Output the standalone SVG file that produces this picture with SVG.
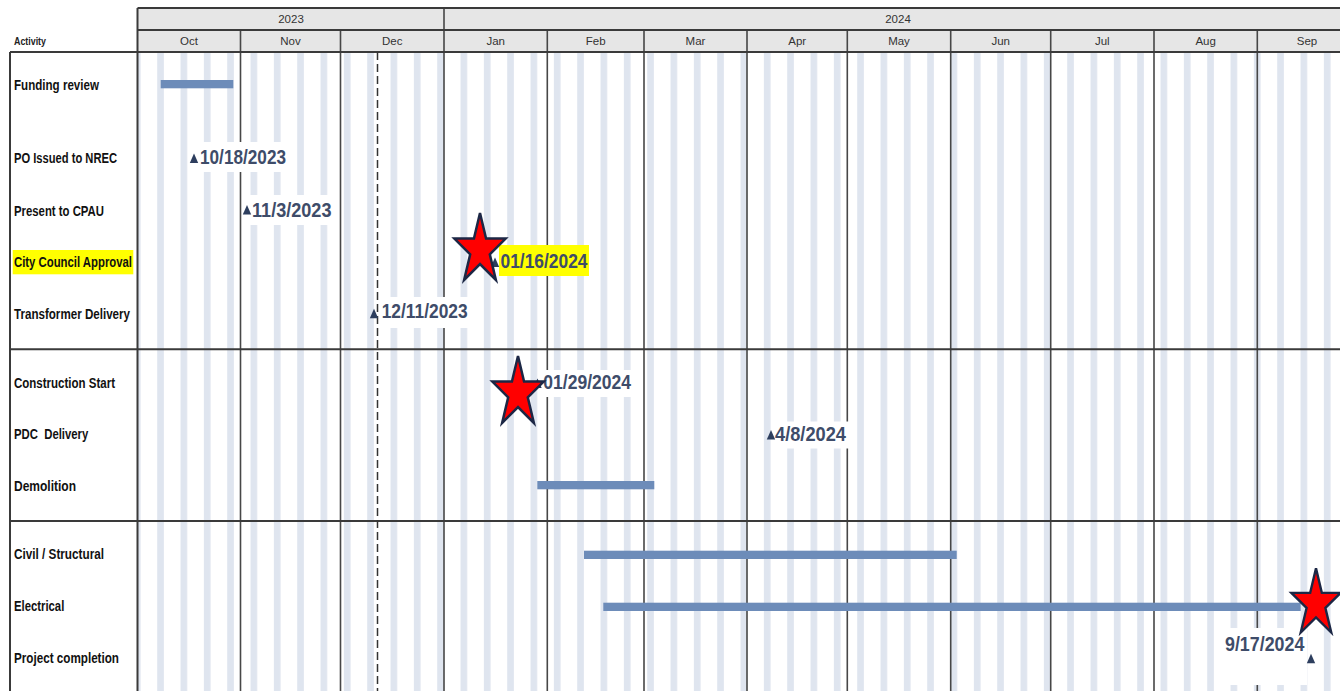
<svg xmlns="http://www.w3.org/2000/svg" width="1340" height="691" viewBox="0 0 1340 691">
<defs>
<pattern id="wk" patternUnits="userSpaceOnUse" x="133.87" y="0" width="23.3333" height="691"><rect x="0" y="0" width="6.67" height="691" fill="#dfe5ef"/></pattern>
<path id="star" d="M0,-37 L6.06,-11.43 L25.68,-11.43 L9.8,4.37 L15.88,29.93 L0,14.13 L-15.88,29.93 L-9.8,4.37 L-25.68,-11.43 L-6.06,-11.43 Z"/>
<path id="tri" d="M0,-9.5 L4.2,0 L-4.2,0 Z"/>
<style>
.grid{stroke:#474747;stroke-width:1.6;fill:none}
.frame{stroke:#3a3a3a;stroke-width:2;fill:none}
.hdr{fill:#e6e6e6}
.hd{font-family:"Liberation Sans",Arial,sans-serif;font-size:11.5px;fill:#333;text-anchor:middle}
.act{font-family:"Liberation Sans",Arial,sans-serif;font-weight:bold;font-size:10.5px;fill:#222}
.lbl{font-family:"Liberation Sans",Arial,sans-serif;font-weight:bold;font-size:14.5px;fill:#111}
.dt{font-family:"Liberation Sans",Arial,sans-serif;font-weight:bold;font-size:21px;fill:#3e4c69}
.bar{fill:#6d8cb9}
.box{fill:#fff}
.hl{fill:#ffff00}
.mk{fill:#2d3e5e}
.star{fill:#ff0000;stroke:#1c2745;stroke-width:2.5;stroke-linejoin:miter}
.today{stroke:#333;stroke-width:1.5;stroke-dasharray:8 4;fill:none}
</style>
</defs>
<rect x="0" y="0" width="1340" height="691" fill="#fff"/>
<g id="header">
<rect class="hdr" x="137.5" y="8" width="1203" height="44"/>
<text class="act" x="14" y="45" textLength="32" lengthAdjust="spacingAndGlyphs">Activity</text>
<text class="hd" x="291" y="23">2023</text>
<text class="hd" x="898" y="23">2024</text>
<text class="hd" x="189" y="45">Oct</text>
<text class="hd" x="290.5" y="45">Nov</text>
<text class="hd" x="392.3" y="45">Dec</text>
<text class="hd" x="495.7" y="45">Jan</text>
<text class="hd" x="595.7" y="45">Feb</text>
<text class="hd" x="695.5" y="45">Mar</text>
<text class="hd" x="797.2" y="45">Apr</text>
<text class="hd" x="899" y="45">May</text>
<text class="hd" x="1000.7" y="45">Jun</text>
<text class="hd" x="1102.3" y="45">Jul</text>
<text class="hd" x="1205.7" y="45">Aug</text>
<text class="hd" x="1307" y="45">Sep</text>
</g>
<g id="weekends">
<rect x="137.5" y="52" width="1203" height="639" fill="url(#wk)"/>
</g>
<g id="grid">
<path class="grid" d="M240.5,30V691 M340.5,30V691 M444,8V691 M547.3,30V691 M644,30V691 M747,30V691 M847.3,30V691 M950.7,30V691 M1050.7,30V691 M1154,30V691 M1257.3,30V691"/>
<path class="frame" d="M137.5,8H1340 M137.5,30H1340 M10,52H1340 M10,349.3H1340 M10,521H1340 M10,52V691 M137.5,8V691"/>
<path class="today" d="M377.5,52V691"/>
</g>
<g id="connectors"/>
<g id="row-funding-review">
<text class="lbl" x="14" y="90" textLength="85" lengthAdjust="spacingAndGlyphs">Funding review</text>
<rect class="bar" x="160.7" y="80" width="72.6" height="8.3"/>
</g>
<g id="row-po-issued">
<text class="lbl" x="14" y="163" textLength="103" lengthAdjust="spacingAndGlyphs">PO Issued to NREC</text>
<rect class="box" x="198" y="142" width="91" height="30"/>
<use href="#tri" class="mk" x="194" y="163"/>
<text class="dt" x="200" y="164" textLength="86" lengthAdjust="spacingAndGlyphs">10/18/2023</text>
</g>
<g id="row-present-cpau">
<text class="lbl" x="14" y="216" textLength="90" lengthAdjust="spacingAndGlyphs">Present to CPAU</text>
<rect class="box" x="250" y="195" width="84" height="30"/>
<use href="#tri" class="mk" x="247" y="214.5"/>
<text class="dt" x="252" y="216.5" textLength="79.5" lengthAdjust="spacingAndGlyphs">11/3/2023</text>
</g>
<g id="row-city-council">
<rect class="hl" x="12.7" y="250" width="120.6" height="24.3"/>
<text class="lbl" x="14" y="267" textLength="118" lengthAdjust="spacingAndGlyphs">City Council Approval</text>
<rect class="hl" x="499" y="245" width="90" height="31"/>
<use href="#tri" class="mk" x="495" y="267"/>
<text class="dt" x="500.5" y="268.3" textLength="87" lengthAdjust="spacingAndGlyphs">01/16/2024</text>
<use href="#star" class="star" x="480" y="250"/>
</g>
<g id="row-transformer">
<text class="lbl" x="14" y="319" textLength="116" lengthAdjust="spacingAndGlyphs">Transformer Delivery</text>
<rect class="box" x="379.5" y="297" width="91" height="31"/>
<use href="#tri" class="mk" x="374" y="318.3"/>
<text class="dt" x="381.7" y="318.3" textLength="86" lengthAdjust="spacingAndGlyphs">12/11/2023</text>
</g>
<g id="row-construction-start">
<text class="lbl" x="14" y="388.3" textLength="101" lengthAdjust="spacingAndGlyphs">Construction Start</text>
<rect class="box" x="541" y="370" width="93" height="27"/>
<use href="#tri" class="mk" x="537.5" y="388"/>
<text class="dt" x="543.3" y="389.3" textLength="87.7" lengthAdjust="spacingAndGlyphs">01/29/2024</text>
<use href="#star" class="star" x="518" y="393"/>
</g>
<g id="row-pdc-delivery">
<text class="lbl" x="14" y="439.3" textLength="74.3" lengthAdjust="spacingAndGlyphs" xml:space="preserve">PDC  Delivery</text>
<rect class="box" x="773" y="421.5" width="76" height="27"/>
<use href="#tri" class="mk" x="771" y="439.5"/>
<text class="dt" x="775" y="441" textLength="71" lengthAdjust="spacingAndGlyphs">4/8/2024</text>
</g>
<g id="row-demolition">
<text class="lbl" x="14" y="491" textLength="62" lengthAdjust="spacingAndGlyphs">Demolition</text>
<rect class="bar" x="537.3" y="481" width="117" height="8.3"/>
</g>
<g id="row-civil-structural">
<text class="lbl" x="14" y="558.5" textLength="90" lengthAdjust="spacingAndGlyphs">Civil / Structural</text>
<rect class="bar" x="584" y="550.7" width="372.7" height="8.3"/>
</g>
<g id="row-electrical">
<text class="lbl" x="14" y="611" textLength="50.3" lengthAdjust="spacingAndGlyphs">Electrical</text>
<rect class="bar" x="603.3" y="602.7" width="697.4" height="8.3"/>
</g>
<g id="row-project-completion">
<text class="lbl" x="14" y="663" textLength="105" lengthAdjust="spacingAndGlyphs">Project completion</text>
<rect class="box" x="1222" y="628" width="85" height="57"/>
<use href="#tri" class="mk" x="1311" y="663.3"/>
<text class="dt" x="1225" y="651" textLength="79.3" lengthAdjust="spacingAndGlyphs">9/17/2024</text>
<use href="#star" class="star" transform="translate(1316 603.8) scale(0.96)"/>
</g>
</svg>
